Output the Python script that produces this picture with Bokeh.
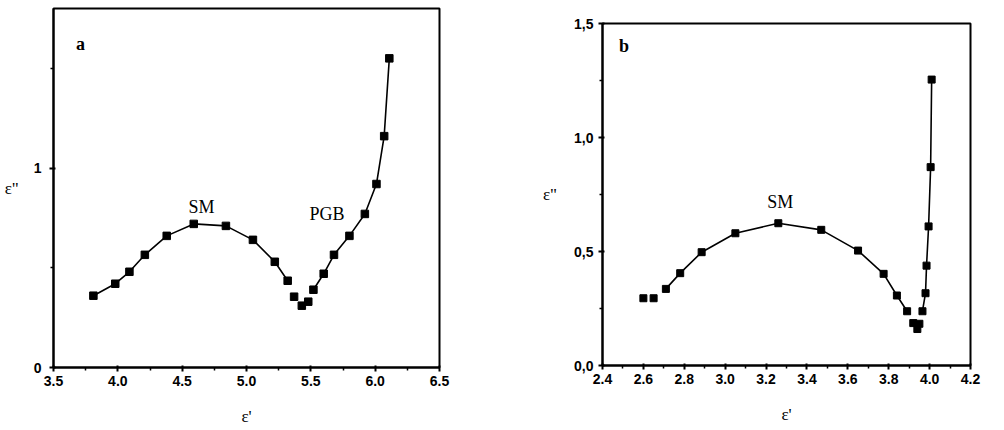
from bokeh.plotting import figure
from bokeh.layouts import row, column
from bokeh.models import FixedTicker, CustomJSTickFormatter, Range1d
from bokeh.core.properties import value
from bokeh.embed import file_html
from bokeh.resources import INLINE

# ---- panel a data ----
a_eps1 = [3.81, 3.98, 4.09, 4.21, 4.38, 4.59, 4.84, 5.05, 5.22, 5.32,
          5.37, 5.43, 5.48, 5.52, 5.60, 5.68, 5.80, 5.92, 6.01, 6.07, 6.11]
a_eps2 = [0.36, 0.42, 0.48, 0.565, 0.66, 0.72, 0.71, 0.64, 0.53, 0.435,
          0.355, 0.31, 0.33, 0.39, 0.47, 0.565, 0.66, 0.77, 0.92, 1.16, 1.55]
a_seg1 = (0, 10)   # connected points
a_seg2 = (13, 21)
a_xticks = [3.5, 4.0, 4.5, 5.0, 5.5, 6.0, 6.5]
a_xminor = [3.75, 4.25, 4.75, 5.25, 5.75, 6.25]
a_yticks = [0, 1]
a_yminor = [0.5, 1.5]
a_labels = ["a", "SM", "PGB"]
a_lab_x = [3.71, 4.65, 5.625]
a_lab_y = [1.62, 0.805, 0.77]

# ---- panel b data ----
b_eps1 = [2.60, 2.65, 2.71, 2.78, 2.885, 3.05, 3.26, 3.47, 3.65, 3.775, 3.84,
          3.89, 3.92, 3.94, 3.95, 3.965, 3.98, 3.985, 3.995, 4.005, 4.01]
b_eps2 = [0.295, 0.295, 0.336, 0.405, 0.497, 0.58, 0.624, 0.595, 0.504, 0.402, 0.307,
          0.238, 0.186, 0.16, 0.183, 0.238, 0.317, 0.438, 0.61, 0.87, 1.254]
b_seg1 = (2, 12)
b_seg2 = (15, 21)
b_xticks = [2.4, 2.6, 2.8, 3.0, 3.2, 3.4, 3.6, 3.8, 4.0, 4.2]
b_xminor = [2.5, 2.7, 2.9, 3.1, 3.3, 3.5, 3.7, 3.9, 4.1]
b_yticks = [0.0, 0.5, 1.0, 1.5]
b_yminor = [0.25, 0.75, 1.25]
b_labels = ["b", "SM"]
b_lab_x = [2.505, 3.27]
b_lab_y = [1.40, 0.717]

SANS = "Liberation Sans"
SERIF = "Liberation Serif"


def style(p):
    p.outline_line_color = "black"
    p.outline_line_width = 2
    p.outline_line_alpha = 1
    p.grid.visible = False
    for ax in (p.xaxis[0], p.yaxis[0]):
        ax.axis_line_width = 2
        ax.axis_line_color = "black"
        ax.major_tick_line_width = 2
        ax.minor_tick_line_width = 1.5
        ax.major_tick_out = 4
        ax.major_tick_in = 2
        ax.minor_tick_out = 3
        ax.minor_tick_in = 0
        ax.major_label_text_font = SANS
        ax.major_label_text_font_style = "bold"
        ax.major_label_text_font_size = "14px"
        ax.major_label_text_color = "black"
        ax.axis_label_text_font = SERIF
        ax.axis_label_text_font_style = "normal"
        ax.axis_label_text_font_size = "17px"
        ax.axis_label_text_color = "black"
    p.xaxis.major_label_standoff = 4
    p.xaxis.axis_label_standoff = 18
    p.xaxis.formatter = CustomJSTickFormatter(code="return tick.toFixed(1);")
    p.yaxis.axis_label_orientation = "horizontal"


# ---- figure a ----
pa = figure(width=490, height=428, output_backend="svg", toolbar_location=None, title=None,
            x_range=Range1d(3.5, 6.5), y_range=Range1d(0, 1.8),
            min_border_left=53, min_border_right=51, min_border_top=8, min_border_bottom=60,
            x_axis_label="ε'", y_axis_label='ε"')
style(pa)
pa.xaxis.ticker = FixedTicker(ticks=a_xticks, minor_ticks=a_xminor)
pa.yaxis.ticker = FixedTicker(ticks=a_yticks, minor_ticks=a_yminor)
pa.yaxis.axis_label_standoff = 12
pa.yaxis.major_label_standoff = 8
pa.line(a_eps1[a_seg1[0]:a_seg1[1]], a_eps2[a_seg1[0]:a_seg1[1]], line_color="black", line_width=1.6)
pa.line(a_eps1[a_seg2[0]:a_seg2[1]], a_eps2[a_seg2[0]:a_seg2[1]], line_color="black", line_width=1.6)
pa.scatter(a_eps1, a_eps2, marker="square", size=7.5, fill_color="black", line_color="black")
pa.text(a_lab_x[1:], a_lab_y[1:], text=a_labels[1:], text_font=value(SERIF),
        text_font_size="18px", text_align="center", text_baseline="middle", text_color="black")
pa.text(a_lab_x[:1], a_lab_y[:1], text=a_labels[:1], text_font=value(SERIF), text_font_style="bold",
        text_font_size="18px", text_align="center", text_baseline="middle", text_color="black")

# ---- figure b ----
pb = figure(width=504, height=428, output_backend="svg", toolbar_location=None, title=None,
            x_range=Range1d(2.4, 4.2), y_range=Range1d(0, 1.5),
            min_border_left=112, min_border_right=24, min_border_top=23, min_border_bottom=63,
            x_axis_label="ε'", y_axis_label='ε"')
style(pb)
pb.xaxis.ticker = FixedTicker(ticks=b_xticks, minor_ticks=b_xminor)
pb.yaxis.ticker = FixedTicker(ticks=b_yticks, minor_ticks=b_yminor)
pb.yaxis.formatter = CustomJSTickFormatter(code="return tick.toFixed(1).replace('.', ',');")
pb.yaxis.axis_label_standoff = 14
pb.line(b_eps1[b_seg1[0]:b_seg1[1]], b_eps2[b_seg1[0]:b_seg1[1]], line_color="black", line_width=1.6)
pb.line(b_eps1[b_seg2[0]:b_seg2[1]], b_eps2[b_seg2[0]:b_seg2[1]], line_color="black", line_width=1.6)
pb.scatter(b_eps1, b_eps2, marker="square", size=7, fill_color="black", line_color="black")
pb.text(b_lab_x[1:], b_lab_y[1:], text=b_labels[1:], text_font=value(SERIF),
        text_font_size="18px", text_align="center", text_baseline="middle", text_color="black")
pb.text(b_lab_x[:1], b_lab_y[:1], text=b_labels[:1], text_font=value(SERIF), text_font_style="bold",
        text_font_size="18px", text_align="center", text_baseline="middle", text_color="black")

layout = row(column(pa), column(pb))
open("out.html", "w").write(file_html(layout, INLINE))
